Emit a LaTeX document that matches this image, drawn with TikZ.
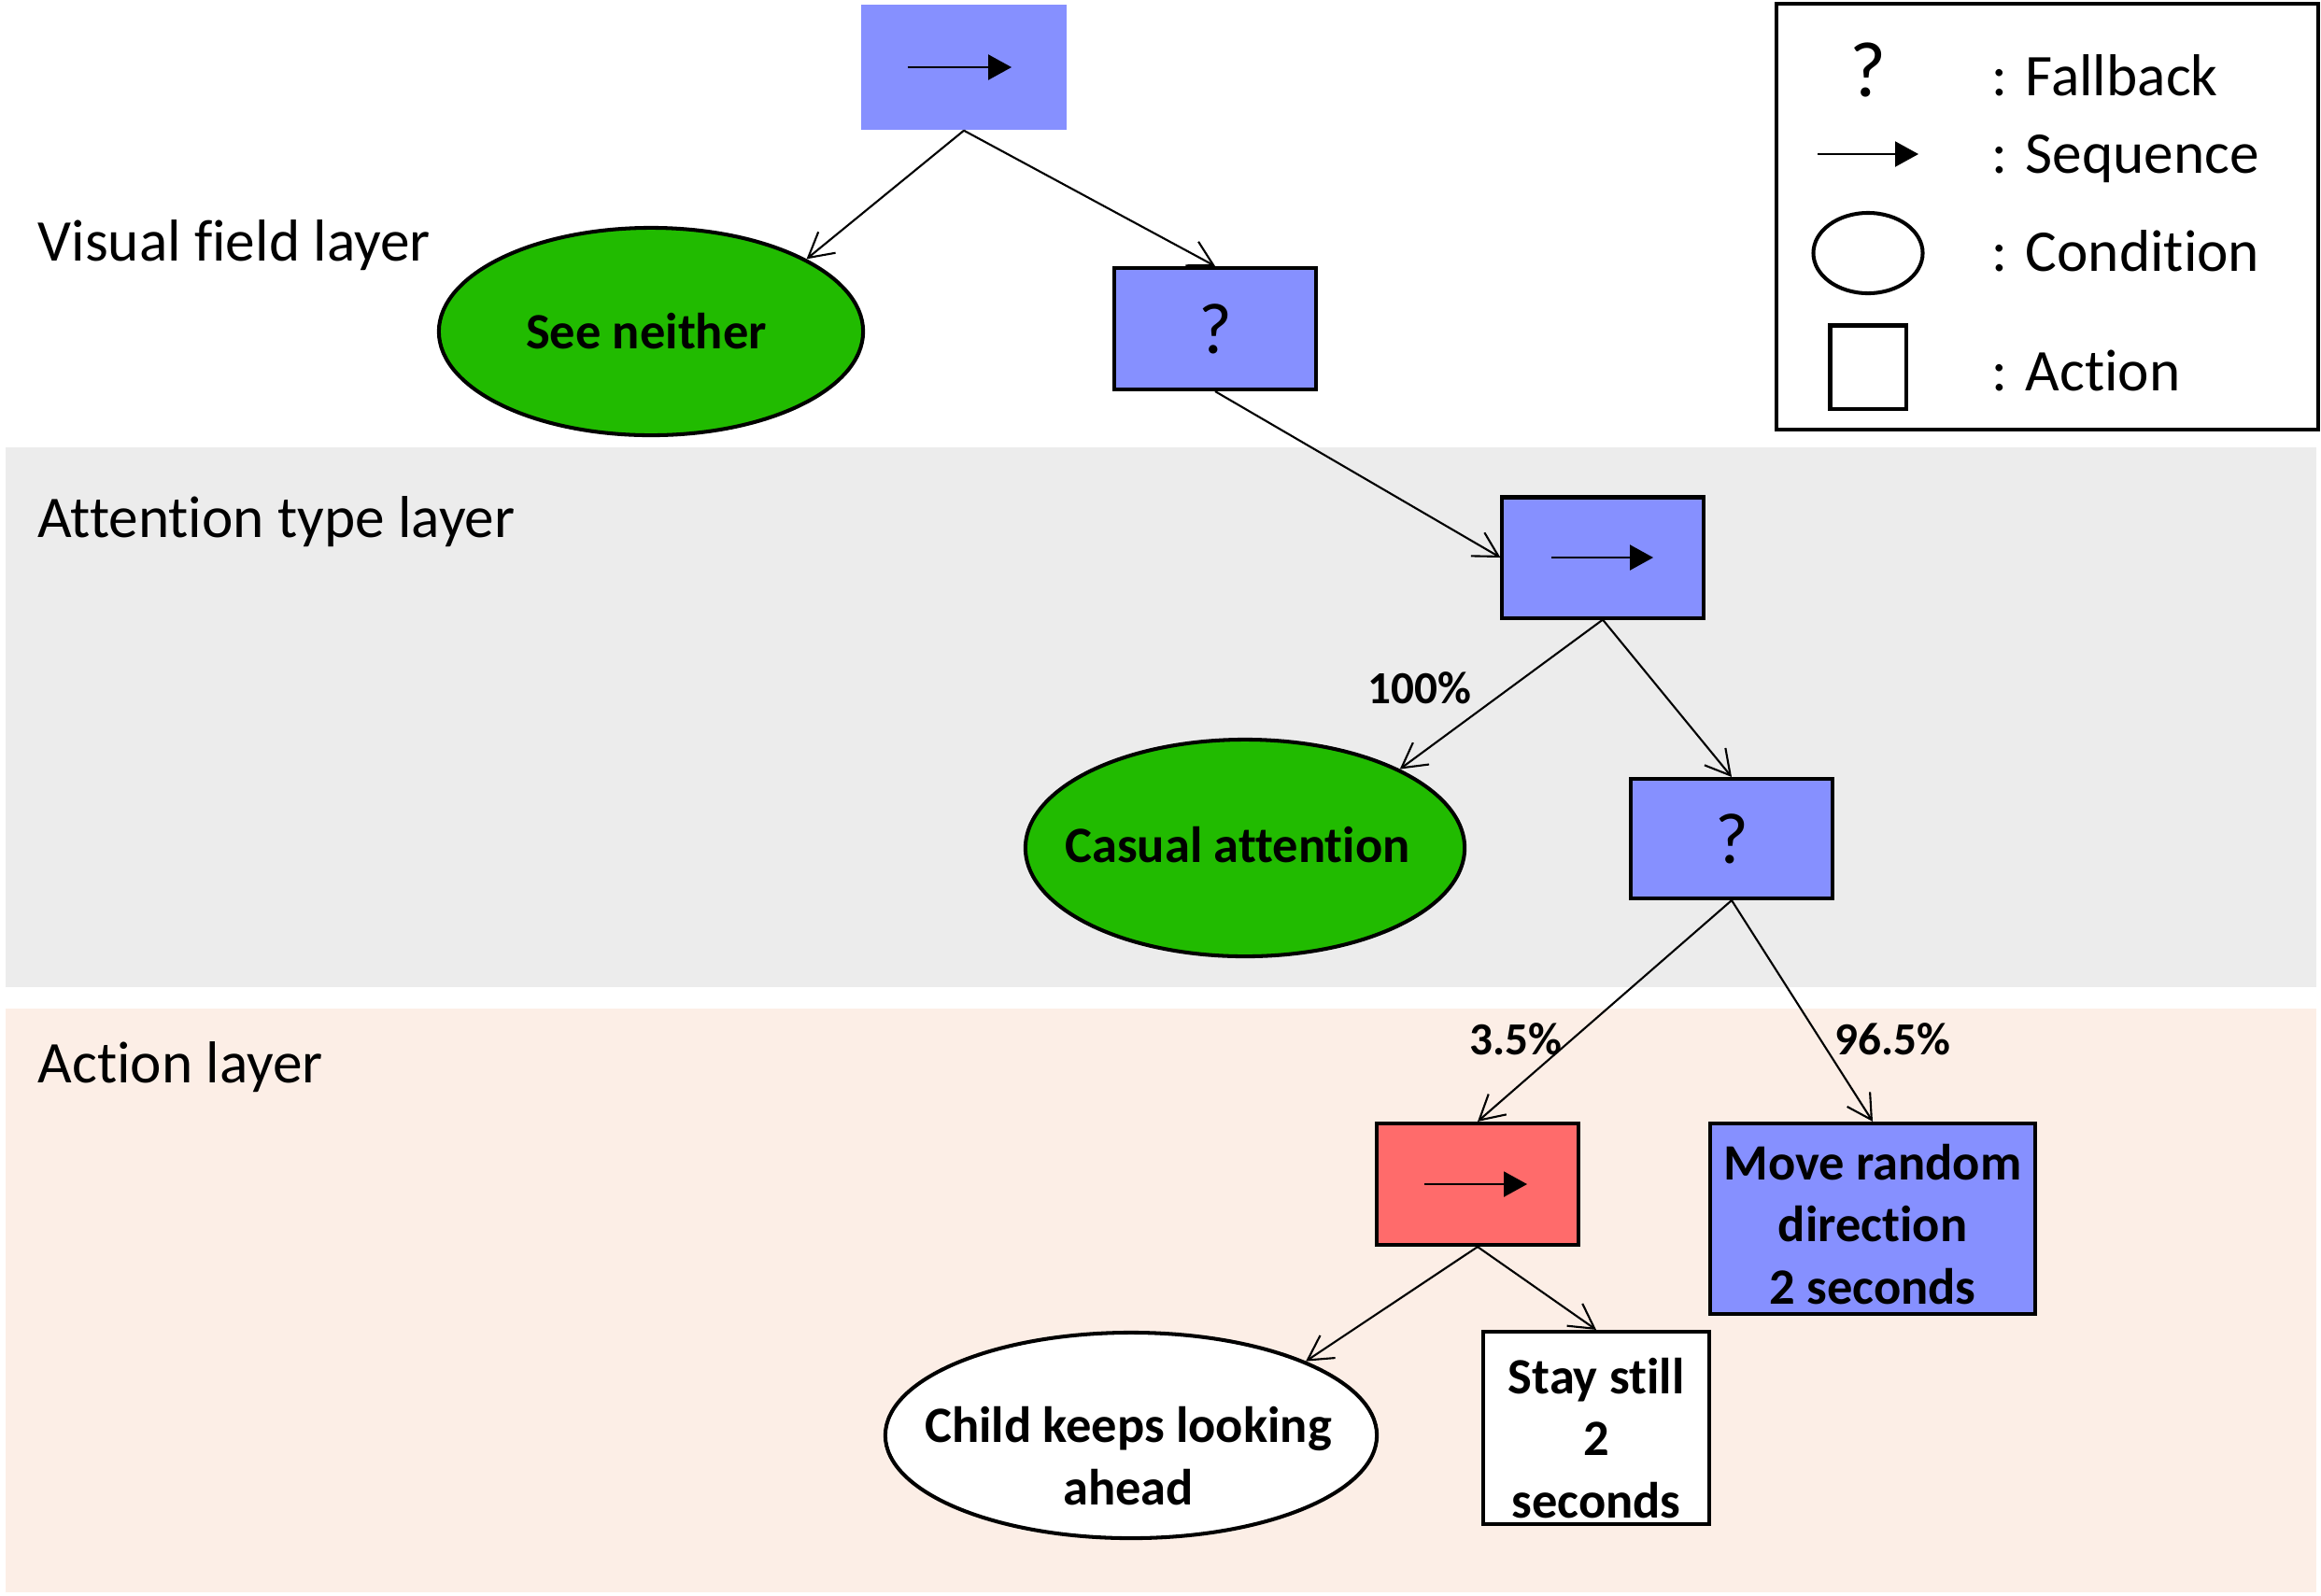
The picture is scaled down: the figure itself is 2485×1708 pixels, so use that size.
\documentclass[tikz,border=0pt]{standalone}
\usepackage{fontspec}
\setmainfont{Carlito}[Ligatures=NoCommon]
\usetikzlibrary{shapes.geometric,arrows.meta}
\definecolor{bluebox}{RGB}{134,144,255}
\definecolor{greenc}{RGB}{33,187,0}
\definecolor{redbox}{RGB}{255,107,107}
\definecolor{grayband}{RGB}{236,236,236}
\definecolor{peachband}{RGB}{252,238,230}
\begin{document}
\begin{tikzpicture}[x=0.01cm,y=-0.01cm,
  nodefont/.style={font=\fontsize{15.5}{19}\selectfont\bfseries},
  actbox/.style={rectangle,draw,line width=1.15pt,inner sep=0pt,align=center,nodefont},
  cond/.style={ellipse,draw,line width=1.15pt,inner sep=0pt},
  ntext/.style={inner sep=0pt,align=center,nodefont},
  qmark/.style={font=\fontsize{22}{26}\selectfont},
  link/.style={line width=0.6pt,-{Straight Barb[length=0.26cm,width=0.29cm]}},
  seqarrow/.style={line width=0.6pt,-{Triangle[length=0.25cm,width=0.27cm]}},
  layerlabel/.style={anchor=base west,inner sep=0pt,font=\fontsize{18}{22}\selectfont},
  legtext/.style={anchor=base west,inner sep=0pt,font=\fontsize{18}{22}\selectfont},
  pct/.style={anchor=base west,inner sep=0pt,font=\fontsize{14}{17}\selectfont\bfseries}
]
\useasboundingbox (0,0) rectangle (2485,1708);
\fill[white] (0,0) rectangle (2485,1708);
% bands
\fill[grayband] (6,479) rectangle (2480,1057);
\fill[peachband] (6,1080) rectangle (2480,1705);

% layer labels
\node[layerlabel] (lvis) at (40,279) {Visual field layer};
\node[layerlabel] (latt) at (40,575) {Attention type layer};
\node[layerlabel] (lact) at (40,1159) {Action layer};

% nodes
\node[rectangle,fill=bluebox,minimum width=2.19cm,minimum height=1.34cm] (top) at (1032,72) {};
\node[cond,fill=greenc,minimum width=4.54cm,minimum height=2.22cm] (see) at (697,355) {};
\node[ntext] (seeT) at ([xshift=-0.05cm]see.center) {See neither};
\node[actbox,fill=bluebox,minimum width=2.16cm,minimum height=1.30cm,qmark] (q1) at (1301,352) {?};
\node[actbox,fill=bluebox,minimum width=2.15cm,minimum height=1.29cm] (seq2) at (1716,597) {};
\node[cond,fill=greenc,minimum width=4.70cm,minimum height=2.32cm] (casual) at (1333,908) {};
\node[ntext] (casualT) at ([xshift=-0.08cm,yshift=0.03cm]casual.center) {Casual attention};
\node[actbox,fill=bluebox,minimum width=2.15cm,minimum height=1.28cm,qmark] (q2) at (1854,898) {?};
\node[actbox,fill=redbox,minimum width=2.16cm,minimum height=1.30cm] (red) at (1582,1268) {};
\node[actbox,fill=bluebox,minimum width=3.48cm,minimum height=2.04cm] (move) at (2005,1305) {};
\node[ntext] (moveT) at ([yshift=-0.06cm]move.center) {Move random\\direction\\2 seconds};
\node[cond,fill=white,minimum width=5.26cm,minimum height=2.20cm] (child) at (1211,1537) {};
\node[ntext] (childT) at ([xshift=-0.03cm,yshift=-0.22cm]child.center) {Child keeps looking\\ahead};
\node[actbox,fill=white,minimum width=2.41cm,minimum height=2.06cm] (stay) at (1709,1529) {};
\node[ntext] (stayT) at ([yshift=-0.11cm]stay.center) {Stay still\\2\\seconds};

% sequence symbols
\draw[seqarrow] ([xshift=-0.60cm]top.center) -- ([xshift=0.51cm]top.center);
\draw[seqarrow] ([xshift=-0.55cm]seq2.center) -- ([xshift=0.54cm]seq2.center);
\draw[seqarrow] ([xshift=-0.57cm]red.center) -- ([xshift=0.53cm]red.center);

% connectors
\draw[link] (top.south) -- (see.25);
\draw[link] (top.south) -- (q1.north);
\draw[link] (q1.south) -- (seq2.west);
\draw[link] (seq2.south) -- (casual.27);
\draw[link] (seq2.south) -- (q2.north);
\draw[link] (q2.south) -- (red.north);
\draw[link] (q2.south) -- (move.north);
\draw[link] (red.south) -- (child.23);
\draw[link] (red.south) -- (stay.north);

% percentages
\node[pct] (p100) at (1464,753) {100\%};
\node[pct] (p35) at (1573,1129) {3.5\%};
\node[pct] (p965) at (1964,1129) {96.5\%};

% legend
\node[rectangle,draw,line width=1.15pt,minimum width=5.80cm,minimum height=4.55cm] (legend) at (2192,232) {};
\node[anchor=base,inner sep=0pt,font=\fontsize{24}{28}\selectfont] (lq) at (2000,103) {?};
\coordinate (la1) at (1946,165);
\coordinate (la2) at (2054,165);
\draw[seqarrow] (la1) -- (la2);
\node[ellipse,draw,line width=1.15pt,minimum width=1.17cm,minimum height=0.86cm,inner sep=0pt] (lell) at (2000,271) {};
\node[rectangle,draw,line width=1.15pt,minimum width=0.81cm,minimum height=0.89cm,inner sep=0pt] (lbox) at (2000,393) {};
\node[legtext] (tfb) at (2132,102) {: Fallback};
\node[legtext] (tsq) at (2132,185) {: Sequence};
\node[legtext] (tcd) at (2132,290) {: Condition};
\node[legtext] (tac) at (2132,418) {: Action};
\end{tikzpicture}
\end{document}
